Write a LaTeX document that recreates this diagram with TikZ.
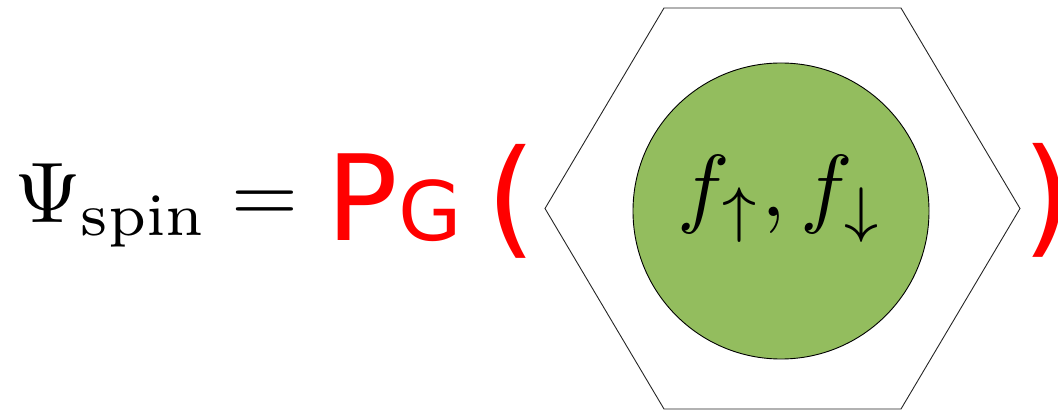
\documentclass[tikz,border=0pt]{standalone}
\usepackage{fontspec}
\newfontfamily\djv{DejaVu Sans}
\definecolor{leaf}{RGB}{147,189,94}
\definecolor{pred}{RGB}{255,0,0}
\tikzset{
  txt/.style={inner sep=0pt, outer sep=0pt, anchor=base west},
  redtxt/.style={txt, text=pred},
  hexline/.style={draw=black!85, line width=0.9pt, line join=miter},
  ball/.style={circle, draw=black, line width=0.9pt, fill=leaf, minimum size=296pt, inner sep=0pt}
}
\begin{document}
\begin{tikzpicture}[x=1pt,y=-1pt]
\useasboundingbox (0,0) rectangle (1058,411);
% left formula
\node[txt, scale=8.6] (psi) at (14,223) {$\Psi_{\mathrm{spin}}=$};
\node[redtxt] (P) at (326,241) {\fontsize{119}{120}\djv P};
\node[redtxt] (G) at (398,241) {\fontsize{82}{90}\djv G};
\node[redtxt] (lp) at (486,242) {\fontsize{128}{130}\djv (};
% hexagon
\coordinate (h1) at (545,208.5);
\coordinate (h2) at (664,8);
\coordinate (h3) at (901,8);
\coordinate (h4) at (1020,208.5);
\coordinate (h5) at (901,409);
\coordinate (h6) at (664,409);
\draw[hexline] (h1) -- (h2) -- (h3) -- (h4) -- (h5) -- (h6) -- cycle;
% green circle
\node[ball] (c) at (781,211) {};
\node[inner sep=0pt, anchor=base, scale=8.8] (f) at (781,217) {$f_{\uparrow},f_{\downarrow}$};
\node[redtxt] (rp) at (1022,241) {\fontsize{128}{130}\djv )};
\end{tikzpicture}
\end{document}
